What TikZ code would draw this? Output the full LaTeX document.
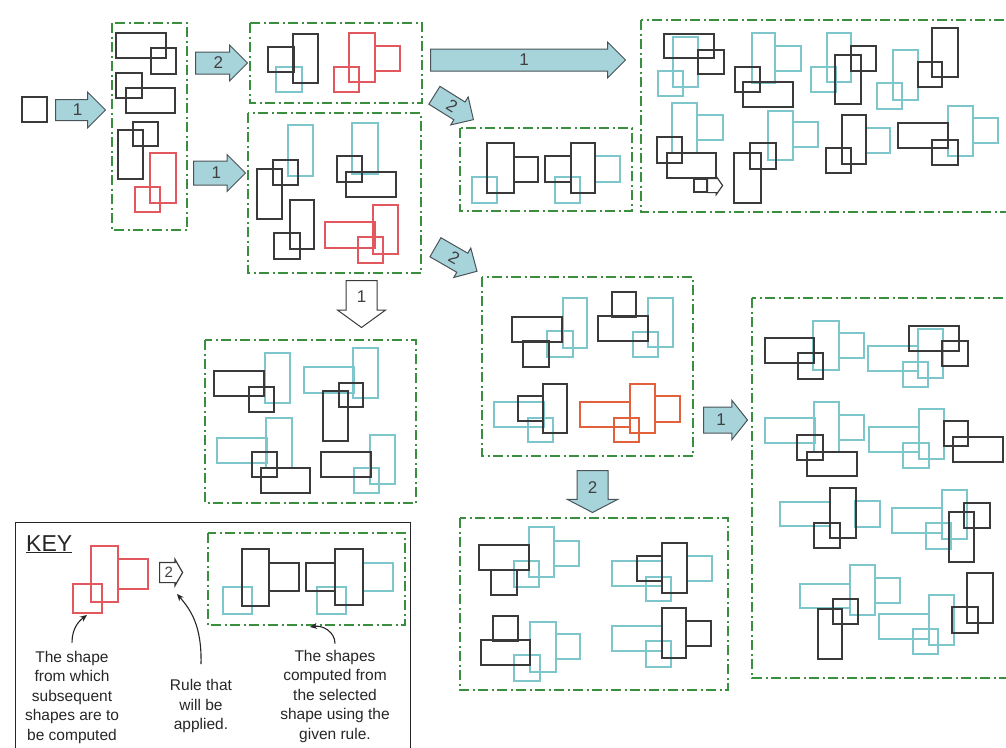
\documentclass[tikz,border=0pt]{standalone}
\usepackage{fontspec}
\setmainfont{Liberation Sans}
\usetikzlibrary{shapes.arrows,arrows.meta,calc}

\definecolor{boxgreen}{HTML}{3A8F3E}
\definecolor{shapeblack}{HTML}{3A3A3A}
\definecolor{shapecyan}{HTML}{7CC6CC}
\definecolor{shapered}{HTML}{E2585E}
\definecolor{shapeorange}{HTML}{E2603A}
\definecolor{arrowfill}{HTML}{A7D3DB}
\definecolor{arrowline}{HTML}{4A5458}

\tikzset{
  greenbox/.style={draw=boxgreen, line width=2pt, dash pattern=on 10pt off 3.5pt on 2pt off 3.5pt},
  blk/.style={draw=shapeblack, line width=1.3pt},
  cyn/.style={draw=shapecyan, line width=1.3pt},
  rd/.style={draw=shapered, line width=1.3pt},
  org/.style={draw=shapeorange, line width=1.3pt},
  rulearrow/.style={single arrow, draw=arrowline, fill=arrowfill, line width=1pt,
    inner xsep=0pt, minimum width=0pt, anchor=tail},
  openarrow/.style={rulearrow, draw=shapeblack, fill=white},
  rulenum/.style={text=black!75, font=\fontsize{17}{17}\selectfont, inner sep=0pt},
  keytext/.style={align=center, font=\fontsize{15.5}{19.5}\selectfont, text=black!85, inner sep=0pt},
  pointer/.style={draw=black!85, line width=1.1pt, -{Stealth[length=7pt,width=6pt]}},
}

\begin{document}
\begin{tikzpicture}[x=1pt,y=-1pt]
  \useasboundingbox (0,0) rectangle (1006,747);
  \clip (0,0) rectangle (1006,747);

  % start shape
  \draw[blk] (22,97) rectangle (47,122);
  \node[rulearrow, minimum height=50pt, inner ysep=10pt, single arrow head extend=7.5pt] (r0) at (55,110) {};
  \node[rulenum] at ($(r0.tail)!0.44!(r0.tip)$) {1};

  % first generation
  \draw[greenbox] (112,23) rectangle (187,230);
  \draw[blk] (116,33) rectangle (166,58);
  \draw[blk] (151,48) rectangle (176,74);
  \draw[blk] (116,73) rectangle (142,98);
  \draw[blk] (126,88) rectangle (175,113);
  \draw[blk] (133,122) rectangle (158,146);
  \draw[blk] (118,130) rectangle (143,179);
  \draw[rd] (150,153) rectangle (176,203);
  \draw[rd] (135,187) rectangle (160,212);

  \node[rulearrow, minimum height=52pt, inner ysep=10.5pt, single arrow head extend=7pt] (r2top) at (195,63) {};
  \node[rulenum] at ($(r2top.tail)!0.44!(r2top.tip)$) {2};
  \node[rulearrow, minimum height=52pt, inner ysep=11.5pt, single arrow head extend=6.5pt] (r1mid) at (193,173) {};
  \node[rulenum] at ($(r1mid.tail)!0.44!(r1mid.tip)$) {1};

  % rule 2 applied
  \draw[greenbox] (250,23) rectangle (422,103);
  \draw[cyn] (276,67) rectangle (302,92);
  \draw[blk] (268,47) rectangle (294,72);
  \draw[blk] (293,34) rectangle (318,83);
  \draw[rd] (349,33) rectangle (375,82);
  \draw[rd] (375,46) rectangle (400,71);
  \draw[rd] (334,67) rectangle (359,92);

  % rule 1 applied
  \draw[greenbox] (248,113) rectangle (421,273);
  \draw[cyn] (288,125) rectangle (313,176);
  \draw[blk] (273,160) rectangle (298,185);
  \draw[blk] (257,169) rectangle (282,219);
  \draw[blk] (290,200) rectangle (314,249);
  \draw[blk] (274,233) rectangle (300,259);
  \draw[cyn] (352,123) rectangle (378,174);
  \draw[blk] (337,156) rectangle (362,182);
  \draw[blk] (346,172) rectangle (396,197);
  \draw[rd] (373,205) rectangle (398,254);
  \draw[rd] (325,222) rectangle (375,248);
  \draw[rd] (358,237) rectangle (383,263);

  \node[rulearrow, minimum height=195pt, inner ysep=10.5pt, single arrow head extend=7pt] (rlong) at (430,60) {};
  \node[rulenum] at ($(rlong.tail)!0.48!(rlong.tip)$) {1};
  \node[rulearrow, minimum height=46pt, inner ysep=10pt, single arrow head extend=6pt, rotate=-32] (rdiaga) at (434,95) {};
  \node[rulenum, rotate=-32] at ($(rdiaga.tail)!0.45!(rdiaga.tip)$) {2};
  \node[rulearrow, minimum height=48pt, inner ysep=10.5pt, single arrow head extend=6pt, rotate=-30] (rdiagb) at (435,247) {};
  \node[rulenum, rotate=-30] at ($(rdiagb.tail)!0.45!(rdiagb.tip)$) {2};

  % top right: rule 1 on the upper red shape
  \draw[greenbox] (641,20) rectangle (1020,212);
  \draw[cyn] (673,37) rectangle (698,87);
  \draw[cyn] (658,71) rectangle (683,96);
  \draw[blk] (664,34) rectangle (714,58);
  \draw[blk] (698,50) rectangle (724,74);
  \draw[cyn] (752,33) rectangle (775,83);
  \draw[cyn] (775,46) rectangle (801,71);
  \draw[blk] (735,67) rectangle (760,92);
  \draw[blk] (743,82) rectangle (793,107);
  \draw[cyn] (827,33) rectangle (851,82);
  \draw[cyn] (811,67) rectangle (836,92);
  \draw[blk] (851,46) rectangle (876,71);
  \draw[blk] (835,55) rectangle (861,104);
  \draw[cyn] (893,50) rectangle (918,100);
  \draw[cyn] (877,83) rectangle (902,109);
  \draw[blk] (918,62) rectangle (942,87);
  \draw[blk] (932,28) rectangle (958,77);
  \draw[cyn] (672,103) rectangle (697,153);
  \draw[cyn] (697,115) rectangle (723,140);
  \draw[blk] (657,137) rectangle (682,163);
  \draw[blk] (667,153) rectangle (716,178);
  \draw[blk, line width=1.2pt] (694,179) rectangle (707,192);
  \node[openarrow, minimum height=15pt, inner ysep=6.5pt, single arrow head extend=2pt,
        single arrow tip angle=110, line width=1.2pt] (rsmall) at (707,185.5) {};
  \draw[cyn] (768,111) rectangle (793,160);
  \draw[cyn] (793,122) rectangle (818,147);
  \draw[blk] (750,143) rectangle (776,169);
  \draw[blk] (734,153) rectangle (761,203);
  \draw[cyn] (866,128) rectangle (890,153);
  \draw[blk] (842,115) rectangle (866,164);
  \draw[blk] (826,148) rectangle (851,173);
  \draw[cyn] (948,106) rectangle (973,156);
  \draw[cyn] (973,118) rectangle (998,143);
  \draw[blk] (898,123) rectangle (948,148);
  \draw[blk] (932,140) rectangle (958,165);

  % rule 2 on the upper red shape
  \draw[greenbox] (460,128) rectangle (632,211);
  \draw[cyn] (472,177) rectangle (497,203);
  \draw[blk] (487,143) rectangle (514,193);
  \draw[blk] (514,157) rectangle (538,182);
  \draw[cyn] (595,156) rectangle (620,182);
  \draw[cyn] (555,177) rectangle (580,203);
  \draw[blk] (545,156) rectangle (571,182);
  \draw[blk] (571,143) rectangle (595,193);

  % rule 1 on the lower red shape
  \node[openarrow, minimum height=47pt, inner ysep=15pt, single arrow head extend=8.5pt,
        single arrow tip angle=108, rotate=-90] (rdown1) at (361.5,280) {};
  \node[rulenum] at ($(rdown1.tail)!0.35!(rdown1.tip)$) {1};
  \draw[greenbox] (205,340) rectangle (416,503);
  \draw[cyn] (265,353) rectangle (290,403);
  \draw[blk] (214,371) rectangle (264,396);
  \draw[blk] (249,387) rectangle (274,412);
  \draw[cyn] (304,367) rectangle (354,393);
  \draw[cyn] (353,348) rectangle (378,398);
  \draw[blk] (339,383) rectangle (363,407);
  \draw[blk] (323,391) rectangle (348,441);
  \draw[cyn] (217,438) rectangle (267,463);
  \draw[cyn] (266,418) rectangle (292,468);
  \draw[blk] (252,452) rectangle (277,477);
  \draw[blk] (261,468) rectangle (310,493);
  \draw[cyn] (370,435) rectangle (395,484);
  \draw[cyn] (354,468) rectangle (379,493);
  \draw[blk] (321,452) rectangle (371,477);

  % rule 2 on the lower red shape
  \draw[greenbox] (482,277) rectangle (693,456);
  \draw[cyn] (563,298) rectangle (587,348);
  \draw[cyn] (547,331) rectangle (573,357);
  \draw[blk] (512,317) rectangle (562,342);
  \draw[blk] (523,341) rectangle (549,367);
  \draw[cyn] (648,298) rectangle (673,347);
  \draw[cyn] (633,332) rectangle (658,357);
  \draw[blk] (612,292) rectangle (636,317);
  \draw[blk] (598,316) rectangle (648,341);
  \draw[cyn] (494,402) rectangle (544,427);
  \draw[cyn] (528,418) rectangle (553,442);
  \draw[blk] (518,396) rectangle (543,421);
  \draw[blk] (543,384) rectangle (567,433);
  \draw[org] (580,402) rectangle (630,427);
  \draw[org] (630,384) rectangle (655,433);
  \draw[org] (655,396) rectangle (680,422);
  \draw[org] (614,418) rectangle (639,442);

  \node[rulearrow, minimum height=44pt, inner ysep=12.5pt, single arrow head extend=6.5pt,
        single arrow tip angle=103] (rright) at (703,420) {};
  \node[rulenum] at ($(rright.tail)!0.4!(rright.tip)$) {1};
  \node[rulearrow, minimum height=42pt, inner ysep=15pt, single arrow head extend=9.5pt,
        single arrow tip angle=125, rotate=-90] (rdown2) at (592.5,470) {};
  \node[rulenum] at ($(rdown2.tail)!0.4!(rdown2.tip)$) {2};

  % rule 1 on the orange shape
  \draw[greenbox] (752,298) rectangle (1020,678);
  \draw[cyn] (813,321) rectangle (839,370);
  \draw[cyn] (839,333) rectangle (864,358);
  \draw[blk] (765,338) rectangle (814,363);
  \draw[blk] (798,353) rectangle (823,379);
  \draw[cyn] (868,346) rectangle (918,371);
  \draw[cyn] (918,329) rectangle (943,378);
  \draw[cyn] (903,362) rectangle (928,387);
  \draw[blk] (909,326) rectangle (959,351);
  \draw[blk] (942,341) rectangle (968,366);
  \draw[cyn] (765,418) rectangle (815,443);
  \draw[cyn] (814,402) rectangle (839,452);
  \draw[cyn] (839,415) rectangle (864,440);
  \draw[blk] (797,435) rectangle (823,460);
  \draw[blk] (807,452) rectangle (857,476);
  \draw[cyn] (869,427) rectangle (919,452);
  \draw[cyn] (919,409) rectangle (944,459);
  \draw[cyn] (903,443) rectangle (929,468);
  \draw[blk] (944,421) rectangle (968,446);
  \draw[blk] (953,437) rectangle (1003,462);
  \draw[cyn] (780,502) rectangle (830,526);
  \draw[cyn] (855,501) rectangle (880,527);
  \draw[blk] (830,488) rectangle (856,538);
  \draw[blk] (814,523) rectangle (840,548);
  \draw[cyn] (892,508) rectangle (942,533);
  \draw[cyn] (942,490) rectangle (967,539);
  \draw[cyn] (926,523) rectangle (951,549);
  \draw[blk] (964,503) rectangle (990,528);
  \draw[blk] (949,512) rectangle (974,562);
  \draw[cyn] (800,584) rectangle (850,608);
  \draw[cyn] (850,565) rectangle (875,615);
  \draw[cyn] (875,578) rectangle (900,603);
  \draw[blk] (833,599) rectangle (858,624);
  \draw[blk] (818,609) rectangle (842,659);
  \draw[cyn] (879,614) rectangle (929,639);
  \draw[cyn] (929,595) rectangle (954,645);
  \draw[cyn] (913,629) rectangle (938,654);
  \draw[blk] (952,607) rectangle (978,633);
  \draw[blk] (967,573) rectangle (993,623);

  % rule 2 on the orange shape
  \draw[greenbox] (460,518) rectangle (728,690);
  \draw[cyn] (529,527) rectangle (554,577);
  \draw[cyn] (554,541) rectangle (579,566);
  \draw[cyn] (514,561) rectangle (539,587);
  \draw[blk] (479,545) rectangle (529,570);
  \draw[blk] (491,570) rectangle (517,595);
  \draw[cyn] (612,561) rectangle (662,586);
  \draw[cyn] (687,556) rectangle (712,581);
  \draw[cyn] (646,577) rectangle (671,601);
  \draw[blk] (637,556) rectangle (662,581);
  \draw[blk] (662,543) rectangle (687,593);
  \draw[cyn] (530,622) rectangle (556,672);
  \draw[cyn] (556,634) rectangle (580,659);
  \draw[cyn] (514,655) rectangle (540,681);
  \draw[blk] (493,616) rectangle (518,641);
  \draw[blk] (481,640) rectangle (530,665);
  \draw[cyn] (612,626) rectangle (662,651);
  \draw[cyn] (646,641) rectangle (671,667);
  \draw[blk] (662,608) rectangle (686,658);
  \draw[blk] (686,621) rectangle (711,646);

  % key
  \draw[draw=black!85, line width=1pt] (15,522) rectangle (410,760);
  \node[anchor=base west, font=\fontsize{23}{23}\selectfont, text=black!85, inner sep=0pt] (keytitle) at (26,551) {\underline{KEY}};
  \draw[rd] (91,546) rectangle (118,602);
  \draw[rd] (118,559) rectangle (148,589);
  \draw[rd] (73,584) rectangle (102,613);
  \node[openarrow, minimum height=23pt, inner ysep=9.5pt, single arrow head extend=3pt,
        single arrow tip angle=120, line width=1.2pt] (rkey) at (159,572.5) {};
  \node[rulenum, font=\fontsize{15}{15}\selectfont] at ($(rkey.tail)!0.4!(rkey.tip)$) {2};
  \draw[greenbox] (208,533) rectangle (405,625);
  \draw[cyn] (223,587) rectangle (252,614);
  \draw[blk] (242,549) rectangle (269,606);
  \draw[blk] (269,563) rectangle (299,591);
  \draw[cyn] (363,563) rectangle (393,591);
  \draw[cyn] (317,587) rectangle (346,614);
  \draw[blk] (306,563) rectangle (335,591);
  \draw[blk] (335,549) rectangle (363,605);

  \node[keytext] (keyshape) at (72,697) {The shape\\from which\\subsequent\\shapes are to\\be computed};
  \node[keytext] (keyrule) at (201,706) {Rule that\\will be\\applied.};
  \node[keytext] (keyout) at (335,696) {The shapes\\computed from\\the selected\\shape using the\\given rule.};
  \coordinate (redtip) at (87,615);
  \coordinate (ruletip) at (177,594);
  \coordinate (outtip) at (310,627);
  \draw[pointer] ([yshift=8pt]keyshape.north) .. controls (72,628) and (79,621) .. (redtip);
  \draw[pointer] ([yshift=15pt]keyrule.north) .. controls (202,625) and (190,609) .. (ruletip);
  \draw[pointer] ([yshift=6pt]keyout.north) .. controls (335,632) and (323,625) .. (outtip);
\end{tikzpicture}
\end{document}
